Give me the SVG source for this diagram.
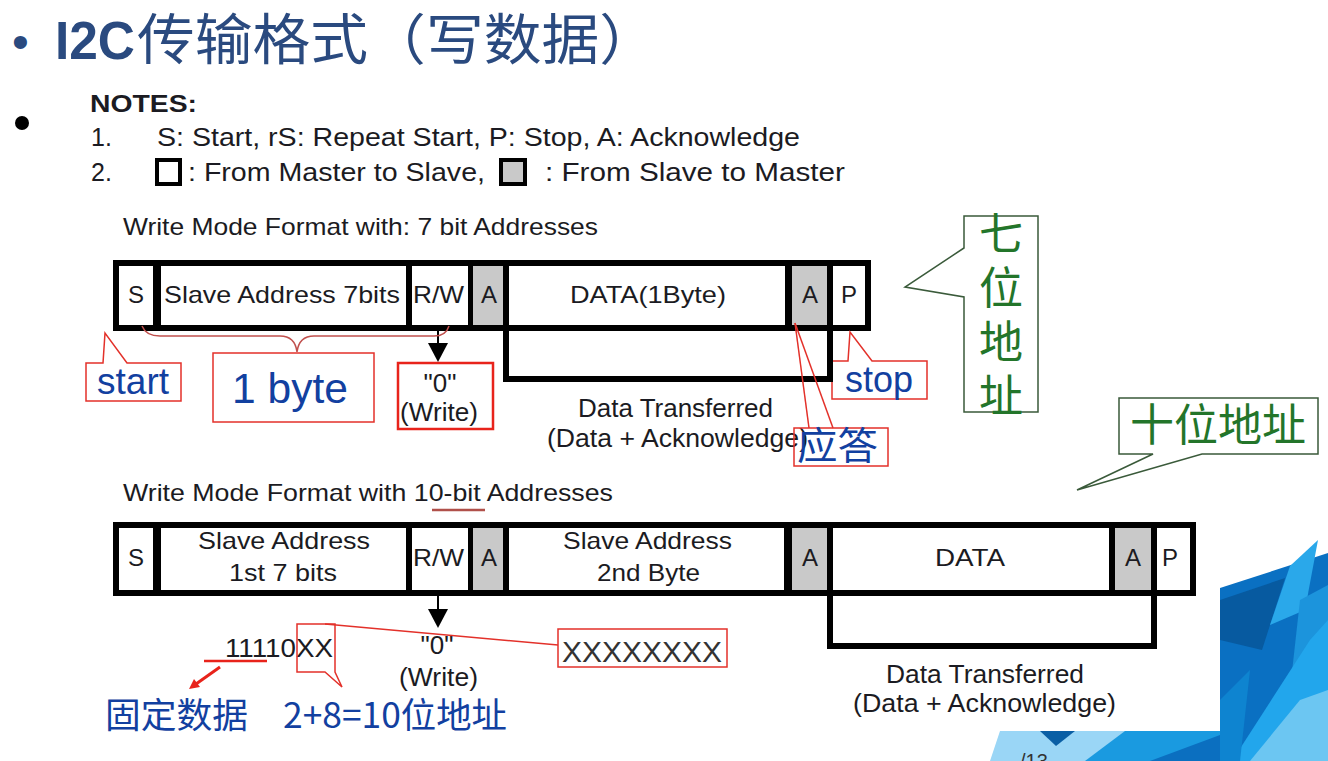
<svg xmlns="http://www.w3.org/2000/svg" width="1328" height="761" viewBox="0 0 1328 761">
  <defs>
    <style>
      .lat { font-family: "Liberation Sans", Arial, sans-serif; }
      .cjk { font-family: "Noto Sans CJK SC", "Noto Sans", sans-serif; }
      .cell { fill: #ffffff; }
      .ack { fill: #c9c9c9; }
      .frame { fill: #000000; }
      .lbl { font-family: "Liberation Sans", Arial, sans-serif; font-size: 24px; fill: #1b1b22; }
      .sub { font-family: "Liberation Sans", Arial, sans-serif; font-size: 26px; fill: #1b1b22; }
      .blue { fill: #1240a0; }
      .note { fill: none; stroke: #e3312a; stroke-width: 1.5; }
      .notew { fill: #ffffff; stroke: #e3312a; stroke-width: 1.5; }
      .green { fill: #ffffff; stroke: #3a5a3a; stroke-width: 1.5; }
      .gtxt { font-family: "Noto Sans CJK SC", sans-serif; fill: #23752a; }
      .bracket { fill: none; stroke: #000000; stroke-width: 6; }
    </style>
  </defs>

  <rect width="1328" height="761" fill="#ffffff"/>

  <!-- corner decoration -->
  <g id="decoration">
    <polygon points="1220,588 1328,553 1328,761 1220,761" fill="#0a70c2"/>
    <polygon points="1220,600 1285,578 1262,650 1220,640" fill="#075aa0"/>
    <polygon points="1290,566 1318,540 1305,610 1270,625" fill="#2aa8ea"/>
    <polygon points="1300,600 1328,585 1328,700 1290,690" fill="#1c94dc"/>
    <polygon points="1232,761 1310,640 1328,620 1328,761" fill="#22a6ec"/>
    <polygon points="1250,761 1300,700 1328,690 1328,761" fill="#6cc6f2"/>
    <polygon points="1220,700 1250,670 1240,761 1220,761" fill="#0e84d0"/>
    <polygon points="990,761 1000,731 1220,731 1220,761" fill="#9ad6f6"/>
    <polygon points="1040,731 1075,731 1056,746" fill="#0a5fa5"/>
    <polygon points="1085,761 1125,731 1220,731 1220,761" fill="#1a9ae0"/>
    <polygon points="1150,761 1220,735 1220,761" fill="#0b6fc0"/>
    <text x="1020" y="768" class="lat" font-size="20" fill="#333">/13</text>
  </g>

  <!-- title -->
  <g id="title">
    <text x="12" y="58" class="lat" font-size="48" fill="#2a4a7f">•</text>
    <text x="55" y="59" class="lat" font-size="54" font-weight="bold" fill="#2a4a7f" textLength="80" lengthAdjust="spacingAndGlyphs">I2C</text>
    <text x="137" y="59" class="cjk" font-size="55" fill="#2a4a7f" textLength="520" lengthAdjust="spacingAndGlyphs">传输格式（写数据）</text>
  </g>

  <!-- notes -->
  <g id="notes">
    <circle cx="22" cy="123" r="7" fill="#000"/>
    <text x="90" y="112" class="lat" font-size="24" font-weight="bold" fill="#1b1b22" textLength="107" lengthAdjust="spacingAndGlyphs">NOTES:</text>
    <text x="91" y="146" class="lat" font-size="25" fill="#1b1b22">1.</text>
    <text x="157" y="146" class="lat" font-size="25" fill="#1b1b22" textLength="643" lengthAdjust="spacingAndGlyphs">S: Start, rS: Repeat Start, P: Stop, A: Acknowledge</text>
    <text x="91" y="181" class="lat" font-size="25" fill="#1b1b22">2.</text>
    <rect x="157" y="160" width="23" height="24" fill="#fff" stroke="#000" stroke-width="4"/>
    <text x="188" y="181" class="lat" font-size="25" fill="#1b1b22" textLength="297" lengthAdjust="spacingAndGlyphs">: From Master to Slave,</text>
    <rect x="501" y="160" width="24" height="24" fill="#c9c9c9" stroke="#000" stroke-width="4"/>
    <text x="545" y="181" class="lat" font-size="25" fill="#1b1b22" textLength="300" lengthAdjust="spacingAndGlyphs">: From Slave to Master</text>
  </g>

  <!-- 7-bit write frame -->
  <g id="frame7">
    <text x="123" y="235" class="lbl" textLength="475" lengthAdjust="spacingAndGlyphs">Write Mode Format with: 7 bit Addresses</text>
    <rect class="frame" x="113" y="260" width="758" height="71"/>
    <g id="f7-s"><rect class="cell" x="119" y="266" width="34" height="59"/><text x="136" y="303" class="lbl" text-anchor="middle">S</text></g>
    <g id="f7-addr"><rect class="cell" x="161" y="266" width="245" height="59"/><text x="164" y="303" class="lbl" textLength="236" lengthAdjust="spacingAndGlyphs">Slave Address 7bits</text></g>
    <g id="f7-rw"><rect class="cell" x="412" y="266" width="56" height="59"/><text x="413" y="303" class="lbl" textLength="51" lengthAdjust="spacingAndGlyphs">R/W</text></g>
    <g id="f7-a1"><rect class="ack" x="473" y="266" width="30" height="59"/><text x="489" y="303" class="lbl" text-anchor="middle">A</text></g>
    <g id="f7-data"><rect class="cell" x="509" y="266" width="276" height="59"/><text x="570" y="303" class="lbl" textLength="156" lengthAdjust="spacingAndGlyphs">DATA(1Byte)</text></g>
    <g id="f7-a2"><rect class="ack" x="792" y="266" width="35" height="59"/><text x="810" y="303" class="lbl" text-anchor="middle">A</text></g>
    <g id="f7-p"><rect class="cell" x="833" y="266" width="32" height="59"/><text x="849" y="303" class="lbl" text-anchor="middle">P</text></g>
    <text x="440" y="392" class="sub" text-anchor="middle">"0"</text>
    <text x="400" y="421" class="sub" textLength="78" lengthAdjust="spacingAndGlyphs">(Write)</text>
    <text x="578" y="417" class="sub" textLength="195" lengthAdjust="spacingAndGlyphs">Data Transferred</text>
    <text x="547" y="447" class="sub" textLength="261" lengthAdjust="spacingAndGlyphs">(Data + Acknowledge)</text>
  </g>

  <!-- 10-bit write frame -->
  <g id="frame10">
    <text x="123" y="501" class="lbl" textLength="490" lengthAdjust="spacingAndGlyphs">Write Mode Format with 10-bit Addresses</text>
    <rect class="frame" x="113" y="522" width="1083" height="74"/>
    <g id="f10-s"><rect class="cell" x="119" y="528" width="34" height="62"/><text x="136" y="566" class="lbl" text-anchor="middle">S</text></g>
    <g id="f10-addr1"><rect class="cell" x="161" y="528" width="245" height="62"/>
      <text x="198" y="549" class="lbl" textLength="172" lengthAdjust="spacingAndGlyphs">Slave Address</text>
      <text x="229" y="581" class="lbl" textLength="108" lengthAdjust="spacingAndGlyphs">1st 7 bits</text></g>
    <g id="f10-rw"><rect class="cell" x="412" y="528" width="56" height="62"/><text x="413" y="566" class="lbl" textLength="51" lengthAdjust="spacingAndGlyphs">R/W</text></g>
    <g id="f10-a1"><rect class="ack" x="473" y="528" width="30" height="62"/><text x="489" y="566" class="lbl" text-anchor="middle">A</text></g>
    <g id="f10-addr2"><rect class="cell" x="509" y="528" width="275" height="62"/>
      <text x="563" y="549" class="lbl" textLength="169" lengthAdjust="spacingAndGlyphs">Slave Address</text>
      <text x="597" y="581" class="lbl" textLength="103" lengthAdjust="spacingAndGlyphs">2nd Byte</text></g>
    <g id="f10-a2"><rect class="ack" x="792" y="528" width="35" height="62"/><text x="810" y="566" class="lbl" text-anchor="middle">A</text></g>
    <g id="f10-data"><rect class="cell" x="833" y="528" width="276" height="62"/><text x="935" y="566" class="lbl" textLength="70" lengthAdjust="spacingAndGlyphs">DATA</text></g>
    <g id="f10-a3"><rect class="ack" x="1115" y="528" width="36" height="62"/><text x="1133" y="566" class="lbl" text-anchor="middle">A</text></g>
    <g id="f10-p"><rect class="cell" x="1157" y="528" width="33" height="62"/><text x="1170" y="566" class="lbl" text-anchor="middle">P</text></g>
    <text x="437" y="654" class="sub" text-anchor="middle">"0"</text>
    <text x="399" y="686" class="sub" textLength="79" lengthAdjust="spacingAndGlyphs">(Write)</text>
    <text x="886" y="683" class="sub" textLength="198" lengthAdjust="spacingAndGlyphs">Data Transferred</text>
    <text x="853" y="712" class="sub" textLength="263" lengthAdjust="spacingAndGlyphs">(Data + Acknowledge)</text>
    <text x="225" y="657" class="lat" font-size="26" fill="#1b1b22" textLength="108" lengthAdjust="spacingAndGlyphs">11110XX</text>
  </g>

  <!-- annotation boxes -->
  <g id="note-start">
    <path class="notew" d="M86,363 H103 L105,333 L127,363 H181 V401 H86 Z"/>
    <text x="97" y="394" class="lat blue" font-size="36" textLength="72" lengthAdjust="spacingAndGlyphs">start</text>
  </g>
  <g id="note-byte">
    <rect class="notew" x="213" y="353" width="161" height="69"/>
    <text x="232" y="403" class="lat blue" font-size="42" textLength="116" lengthAdjust="spacingAndGlyphs">1 byte</text>
  </g>
  <rect id="note-write" x="398" y="363" width="95" height="66" fill="none" stroke="#e8231b" stroke-width="2.5"/>
  <g id="note-stop">
    <path class="notew" d="M832,361 H848 L850,332 L872,361 H927 V399 H832 Z"/>
    <text x="845" y="392" class="lat blue" font-size="36" textLength="68" lengthAdjust="spacingAndGlyphs">stop</text>
  </g>
  <g id="note-ack">
    <rect class="note" x="794" y="428" width="94" height="38"/>
    <text x="797" y="459" class="cjk blue" font-size="38" textLength="81" lengthAdjust="spacingAndGlyphs">应答</text>
  </g>
  <g id="note-7bit">
    <path class="green" d="M964,216 H1038 V412 H964 V297 L905,287 L964,248 Z"/>
    <!-- vertical label, one glyph per 54px -->
    <text x="1001" y="211" class="gtxt" font-size="44" writing-mode="vertical-rl" letter-spacing="10">七位地址</text>
  </g>
  <g id="note-10bit">
    <path class="green" d="M1119,398 H1318 V454 H1202 L1077,490 L1153,454 H1119 Z"/>
    <text x="1130" y="441" class="gtxt" font-size="44" textLength="176" lengthAdjust="spacingAndGlyphs">十位地址</text>
  </g>
  <g id="note-xx">
    <path class="note" d="M297,624 H335 V672 L342,687 L325,672 H297 Z"/>
  </g>
  <g id="note-byte2">
    <rect class="note" x="558" y="629" width="169" height="38"/>
    <text x="562" y="662" class="lat" font-size="30" fill="#333" textLength="160" lengthAdjust="spacingAndGlyphs">XXXXXXXX</text>
  </g>
  <g id="note-fixed">
    <text x="105" y="728" class="cjk blue" font-size="35" textLength="143" lengthAdjust="spacingAndGlyphs">固定数据</text>
  </g>
  <g id="note-sum">
    <text x="283" y="728" class="cjk blue" font-size="35" textLength="224" lengthAdjust="spacingAndGlyphs">2+8=10位地址</text>
  </g>

  <!-- connectors -->
  <g id="connectors">
    <path class="bracket" d="M506,331 V379 H830 V331"/>
    <path class="bracket" d="M830,596 V646 H1154 V596"/>
    <line x1="438" y1="331" x2="438" y2="345" stroke="#000" stroke-width="2"/>
    <polygon points="428,343 448,343 438,362" fill="#000"/>
    <line x1="438" y1="596" x2="438" y2="611" stroke="#000" stroke-width="2"/>
    <polygon points="428,609 448,609 438,628" fill="#000"/>
    <path d="M142,326 Q146,336 160,336 H280 Q295,336 297,352 Q299,336 314,336 H434 Q446,336 449,326" fill="none" stroke="#c0504d" stroke-width="1.5"/>
    <line x1="795" y1="323" x2="809" y2="428" stroke="#e3312a" stroke-width="1.5"/>
    <line x1="795" y1="323" x2="833" y2="428" stroke="#e3312a" stroke-width="1.5"/>
    <line x1="325" y1="624" x2="558" y2="645" stroke="#e3312a" stroke-width="1.5"/>
    <line x1="432" y1="510" x2="485" y2="510" stroke="#b0504a" stroke-width="2.5"/>
    <line x1="204" y1="661" x2="267" y2="661" stroke="#e8231b" stroke-width="2.5"/>
    <line x1="220" y1="667" x2="196" y2="684" stroke="#e8231b" stroke-width="3"/>
    <polygon points="189,689 200,687 194,679" fill="#e8231b"/>
  </g>
</svg>
